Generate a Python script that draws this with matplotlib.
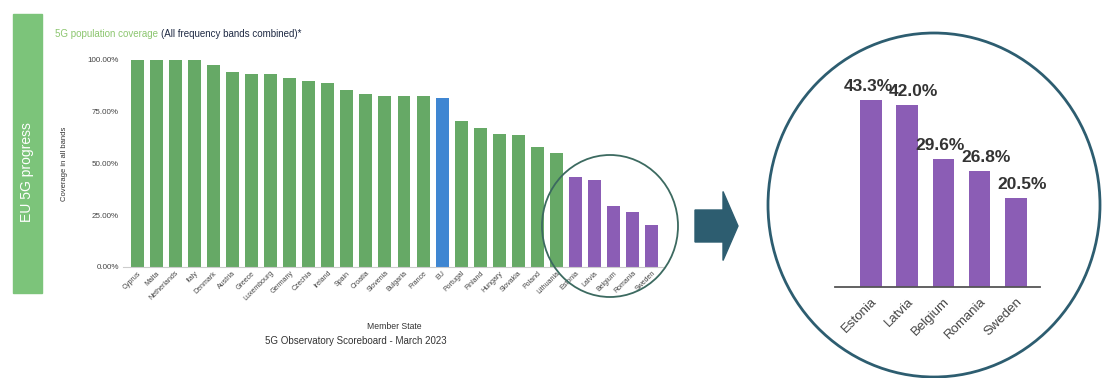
"""Recreate the EU 5G progress slide: coverage by member state plus zoomed inset."""

from __future__ import annotations

import matplotlib

matplotlib.use("Agg")

import matplotlib.pyplot as plt
from matplotlib.patches import Ellipse, FancyArrow, Rectangle
from matplotlib.ticker import PercentFormatter

COUNTRIES = [
    "Cyprus", "Malta", "Netherlands", "Italy", "Denmark", "Austria", "Greece",
    "Luxembourg", "Germany", "Czechia", "Ireland", "Spain", "Croatia", "Slovenia",
    "Bulgaria", "France", "EU", "Portugal", "Finland", "Hungary", "Slovakia",
    "Poland", "Lithuania", "Estonia", "Latvia", "Belgium", "Romania", "Sweden",
]
COVERAGE = [
    100.0, 100.0, 100.0, 100.0, 97.8, 94.3, 93.1, 93.0, 91.5, 89.9, 88.8,
    85.5, 83.8, 82.6, 82.5, 82.4, 81.4, 70.4, 67.1, 64.2, 63.6, 57.9, 55.3,
    43.3, 42.0, 29.6, 26.8, 20.5,
]
INSET_COUNTRIES = ["Estonia", "Latvia", "Belgium", "Romania", "Sweden"]
INSET_VALUES = [43.3, 42.0, 29.6, 26.8, 20.5]

GREEN = "#66a966"
BLUE = "#3f86d2"
PURPLE = "#8b5db5"
TEAL = "#2d5d70"
FONT = ["Liberation Sans", "DejaVu Sans"]


def _bar_colors() -> list[str]:
    colors = []
    for name in COUNTRIES:
        if name == "EU":
            colors.append(BLUE)
        elif name in INSET_COUNTRIES:
            colors.append(PURPLE)
        else:
            colors.append(GREEN)
    return colors


def _plot_main(fig: plt.Figure) -> None:
    axis = fig.add_axes([0.1115, 0.2937, 0.4914, 0.5476])
    positions = range(len(COUNTRIES))
    axis.bar(positions, COVERAGE, width=0.68, color=_bar_colors())
    axis.set_xlim(-0.75, len(COUNTRIES) - 0.3)
    axis.set_ylim(0, 100)
    axis.set_yticks([0, 25, 50, 75, 100])
    axis.yaxis.set_major_formatter(PercentFormatter(decimals=2))
    axis.set_xticks(list(positions))
    axis.set_xticklabels(
        COUNTRIES, rotation=45, ha="right", rotation_mode="anchor",
        fontsize=5, color="#444444",
    )
    axis.tick_params(axis="y", labelsize=5.8, colors="#444444", length=0, pad=3)
    axis.tick_params(axis="x", length=0, pad=2)
    for side in ("top", "right", "left"):
        axis.spines[side].set_visible(False)
    axis.spines["bottom"].set_color("#cccccc")
    axis.set_ylabel("Coverage in all bands", fontsize=5.5, color="#333333", labelpad=14)
    axis.set_xlabel("Member State", fontsize=6.2, color="#333333", labelpad=14)

    # two-colour title: place the second part right after the first
    first = fig.text(0.05, 0.902, "5G population coverage ", fontsize=7,
                     color="#8cc66f", family=FONT)
    renderer = fig.canvas.get_renderer()
    extent = first.get_window_extent(renderer).transformed(fig.transFigure.inverted())
    fig.text(extent.x1, 0.902, "(All frequency bands combined)*", fontsize=7,
             color="#1f2a44", family=FONT)
    fig.text(0.323, 0.09, "5G Observatory Scoreboard - March 2023", ha="center",
             fontsize=7, color="#333333", family=FONT)


def _plot_inset(fig: plt.Figure) -> None:
    axis = fig.add_axes([0.757, 0.2407, 0.1859, 0.6005])
    positions = range(len(INSET_COUNTRIES))
    bars = axis.bar(positions, INSET_VALUES, width=0.6, color=PURPLE)
    for index, (bar, value) in enumerate(zip(bars, INSET_VALUES)):
        # a label whose right neighbour sits at nearly the same height is pushed left
        crowded = index + 1 < len(INSET_VALUES) and value - INSET_VALUES[index + 1] < 5
        if crowded:
            x, align = bar.get_x() + bar.get_width() + 0.3, "right"
        else:
            x, align = bar.get_x() - 0.2, "left"
        axis.text(
            x, value + 1.4, f"{value:.1f}%", ha=align, va="bottom",
            fontsize=12.5, fontweight="bold", color="#333333", family=FONT,
        )
    axis.set_xlim(-1.0, 4.67)
    axis.set_ylim(0, 52.5)
    axis.set_yticks([])
    axis.set_xticks(list(positions))
    axis.set_xticklabels(
        INSET_COUNTRIES, rotation=45, ha="right", rotation_mode="anchor",
        fontsize=9.5, color="#444444", family=FONT,
    )
    axis.tick_params(axis="x", length=0, pad=6)
    for side in ("top", "right", "left"):
        axis.spines[side].set_visible(False)
    axis.spines["bottom"].set_color("#555555")
    axis.spines["bottom"].set_linewidth(1.3)
    axis.set_facecolor("none")


def _draw_decorations(fig: plt.Figure) -> None:
    overlay = fig.add_axes([0, 0, 1, 1], zorder=5)
    overlay.set_xlim(0, 1103)
    overlay.set_ylim(378, 0)
    overlay.set_axis_off()
    overlay.patch.set_visible(False)

    overlay.add_patch(Rectangle((13, 14), 29, 279, color="#7cc47a"))
    overlay.text(27.5, 172, "EU 5G progress", rotation=90, ha="center", va="center",
                 fontsize=10, color="white", family=FONT)

    overlay.add_patch(Ellipse((610, 226), 136, 142, fill=False, edgecolor="#3c6a60",
                              linewidth=1.3))
    overlay.add_patch(FancyArrow(695, 226, 28, 0, width=32, head_width=69,
                                 head_length=15, length_includes_head=False,
                                 color=TEAL))
    overlay.add_patch(Ellipse((934, 205), 332, 344, fill=False, edgecolor=TEAL,
                              linewidth=2))


def main() -> None:
    plt.rcParams["font.family"] = FONT
    fig = plt.figure(figsize=(11.03, 3.78), dpi=100)
    _plot_main(fig)
    _plot_inset(fig)
    _draw_decorations(fig)
    fig.savefig("out.png", dpi=100)
    plt.close(fig)


if __name__ == "__main__":
    main()
